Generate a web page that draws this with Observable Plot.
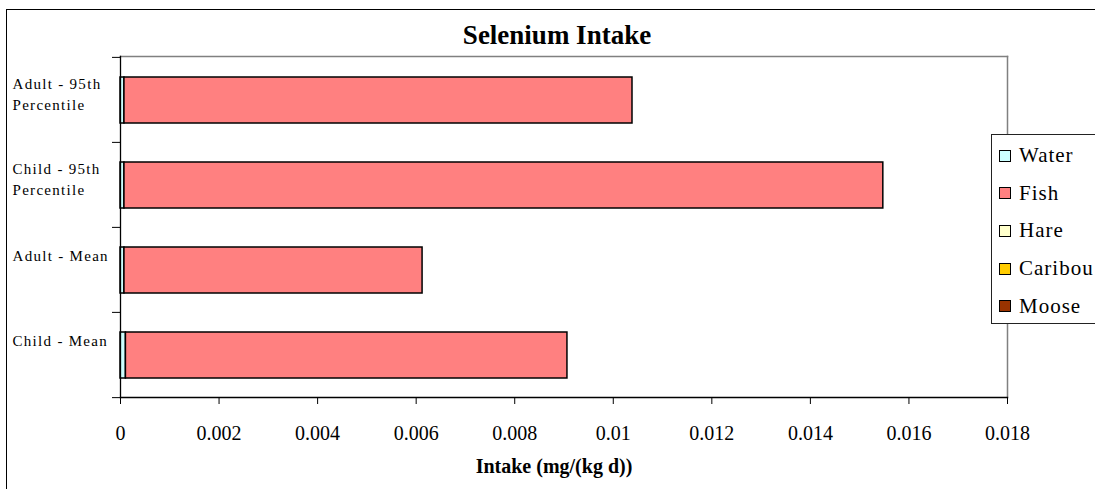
<!DOCTYPE html>
<html><head><meta charset="utf-8">
<script src="https://cdn.jsdelivr.net/npm/d3@7"></script>
<script src="https://cdn.jsdelivr.net/npm/@observablehq/plot@0.6"></script>
<style>
html,body{margin:0;padding:0;background:#fff;overflow:hidden;}
#wrap{position:relative;width:1095px;height:489px;overflow:hidden;font-family:"Liberation Serif","Times New Roman",serif;background:#fff;}
#chart{position:absolute;left:0;top:0;}
#border{position:absolute;left:6px;top:9px;width:1200px;height:600px;border-top:1.5px solid #000;border-left:1.5px solid #000;pointer-events:none;}
#legend{position:absolute;left:991px;top:134px;width:130px;height:190px;border:1px solid #222;background:#fff;box-sizing:border-box;padding-top:2px;}
.item{height:37.6px;display:flex;align-items:center;font-size:21px;letter-spacing:1px;color:#000;font-family:"Liberation Serif","Times New Roman",serif;}
.sw{width:10px;height:10px;border:1.5px solid #000;margin-left:7px;margin-right:8px;flex:none;}
</style></head>
<body>
<div id="wrap">
  <div id="chart"></div>
  <div id="border"></div>
  <div id="legend"></div>
</div>
<script>
// ---- data ----
const title = "Selenium Intake";
const xLabel = "Intake (mg/(kg d))";
const categories = ["Adult - 95th\nPercentile", "Child - 95th\nPercentile", "Adult - Mean", "Child - Mean"];
const series = ["Water", "Fish", "Hare", "Caribou", "Moose"];
const colors = ["#CCFFFF", "#FF8080", "#FFFFCC", "#FFCC00", "#993300"];
const water   = [0.00008, 0.00008, 0.00008, 0.00011];
const fish    = [0.01031, 0.01540, 0.00605, 0.00896];
const hare    = [0, 0, 0, 0];
const caribou = [0, 0, 0, 0];
const moose   = [0, 0, 0, 0];
const xTicks = [0, 0.002, 0.004, 0.006, 0.008, 0.01, 0.012, 0.014, 0.016, 0.018];

const values = [water, fish, hare, caribou, moose];
const rows = [];
categories.forEach((c, i) => {
  series.forEach((s, j) => {
    const v = values[j][i];
    if (v > 0) rows.push({cat: c, series: s, value: v});
  });
});

const W = 1095, H = 489, mL = 120, mR = 88, mT = 56, mB = 92;
const bw = (H - mT - mB) / categories.length;
const oneLine = categories.filter(c => !c.includes("\n"));
const twoLine = categories.filter(c => c.includes("\n"));
const serif = "'Liberation Serif', 'Times New Roman', serif";

const plot = Plot.plot({
  width: W, height: H,
  marginLeft: mL, marginRight: mR, marginTop: mT, marginBottom: mB,
  style: {fontFamily: serif, background: "transparent", color: "#000"},
  x: {domain: [0, 0.018]},
  y: {domain: categories, padding: 0},
  color: {domain: series, range: colors},
  marks: [
    Plot.frame({anchor: "top", stroke: "#808080", strokeWidth: 1.5}),
    Plot.frame({anchor: "right", stroke: "#808080", strokeWidth: 1.5}),
    Plot.barX(rows, Plot.stackX({y: "cat", x: "value", fill: "series", stroke: "#000", strokeWidth: 1.5, insetTop: 20, insetBottom: 19})),
    Plot.frame({anchor: "left", stroke: "#000", strokeWidth: 1.3}),
    Plot.frame({anchor: "bottom", stroke: "#000", strokeWidth: 1.3}),
    Plot.axisX({ticks: xTicks, tickSize: 7, tickPadding: 21, fontSize: 20, label: null,
      tickFormat: d => String(+d.toFixed(3))}),
    Plot.axisY({tickSize: 8, tickFormat: () => "", dy: -bw / 2, label: null}),
    Plot.axisY({ticks: [categories[categories.length - 1]], tickSize: 8, tickFormat: () => "", dy: bw / 2, label: null}),
    Plot.text(twoLine, {y: d => d, text: d => d, frameAnchor: "left", dx: -108, dy: -7, textAnchor: "start", lineHeight: 1.4, fontSize: 15, fontFamily: serif}),
    Plot.text(oneLine, {y: d => d, text: d => d, frameAnchor: "left", dx: -108, dy: -14, textAnchor: "start", fontSize: 15, fontFamily: serif}),
    Plot.text([title], {text: d => d, frameAnchor: "top", lineAnchor: "middle", dy: -21, dx: -7, fontSize: 27, fontWeight: "bold", fontFamily: serif}),
    Plot.text([xLabel], {text: d => d, frameAnchor: "bottom", lineAnchor: "middle", dy: 69, dx: -10, fontSize: 20, fontWeight: "bold", fontFamily: serif})
  ]
});
// widen the category labels' letter spacing like the reference
const textGroups = d3.select(plot).selectAll('g[aria-label="text"]').nodes();
textGroups.slice(0, 2).forEach(g => d3.select(g).style("letter-spacing", "1.3px"));
document.getElementById("chart").appendChild(plot);

// legend
const legend = d3.select("#legend");
series.forEach((s, i) => {
  const it = legend.append("div").attr("class", "item");
  it.append("div").attr("class", "sw").style("background", colors[i]);
  it.append("span").text(s);
});
</script>
</body></html>
